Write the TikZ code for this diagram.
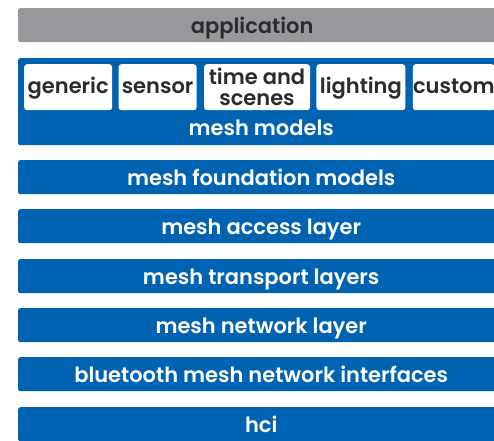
\documentclass[tikz,border=0pt]{standalone}
\usepackage{fontspec}
\setmainfont{Poppins}[BoldFont={Poppins SemiBold}]
\usetikzlibrary{positioning}

\definecolor{meshblue}{HTML}{0063B1}
\definecolor{appgray}{HTML}{97989C}
\definecolor{darktext}{HTML}{2B2B2B}

\tikzset{
  label text/.style={font=\bfseries\fontsize{21}{22}\selectfont,text height=20pt,text depth=4pt},
  layer/.style={fill=meshblue,text=white,rounded corners=2pt,minimum width=486pt,
    minimum height=34pt,anchor=north west,inner sep=0pt,label text},
  model/.style={fill=white,text=darktext,rounded corners=3pt,minimum height=46pt,
    anchor=north west,inner sep=0pt,align=center,
    font=\bfseries\fontsize{21}{21}\selectfont},
  onerow/.style={model,text height=16pt,text depth=4pt},
}

\begin{document}
\begin{tikzpicture}[x=1pt,y=-1pt]
\useasboundingbox (0,0) rectangle (494,440);

\node[layer,fill=appgray] (app) at (18,8) {};
\node[label text,text=darktext] at ([xshift=-9pt]app.center) {application};

\node[layer,minimum height=87pt] (models) at (18,58) {};
\node[label text,white] at ([yshift=18pt]models.south) {mesh models};

\node[onerow,minimum width=88pt] (generic) at (24,64) {generic};
\node[onerow,minimum width=78pt,right=6pt of generic.north east,anchor=north west] (sensor) {sensor};
\node[model,minimum width=106pt,right=7pt of sensor.north east,anchor=north west] (time) {time and\\scenes};
\node[onerow,minimum width=89pt,right=6pt of time.north east,anchor=north west] (lighting) {lighting};
\node[onerow,minimum width=82pt,right=7pt of lighting.north east,anchor=north west] (custom) {custom};

\node[layer] (foundation) at (18,160) {mesh foundation models};
\node[layer] (access) at (18,209) {mesh access layer};
\node[layer] (transport) at (18,259) {mesh transport layers};
\node[layer] (network) at (18,308) {mesh network layer};
\node[layer] (interfaces) at (18,357) {bluetooth mesh network interfaces};
\node[layer] (hci) at (18,407) {hci};
\end{tikzpicture}
\end{document}
